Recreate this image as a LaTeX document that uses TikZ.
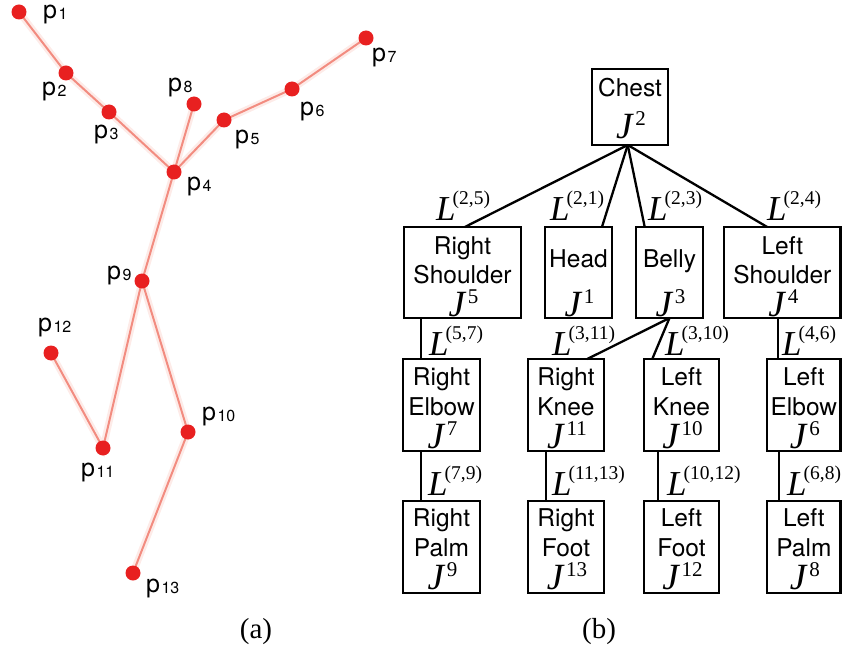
\documentclass[tikz,border=0pt]{standalone}
\usepackage{fontspec}
\setmainfont{Liberation Serif}
\newfontfamily\hv{TeX Gyre Heros}
\usetikzlibrary{calc}
\definecolor{bone}{RGB}{242,140,128}
\definecolor{halo}{RGB}{252,222,216}
\definecolor{joint}{RGB}{232,32,32}
\newcommand\Jl[1]{{\fontsize{37}{37}\selectfont\itshape J}\kern3pt\raisebox{13pt}{\fontsize{21}{21}\selectfont #1}}
\newcommand\Ll[1]{{\fontsize{35}{35}\selectfont\itshape L}\kern-3pt\raisebox{16pt}{\fontsize{19.5}{19.5}\selectfont (#1)}}
\newcommand\pl[1]{{\fontsize{25}{25}\selectfont p}\kern1.5pt\raisebox{-1pt}{\fontsize{16}{16}\selectfont #1}}
\newcommand\bx[5]{\node[box, minimum width={#4-#2}, minimum height={#5-#3}] (#1) at ({(#2+#4)/2},{(#3+#5)/2}) {};}
\newcommand\bt[4]{\node[sf, anchor=base] (#1#2) at ($(#1.north)+(0,#3)$) {#4};}
\newcommand\bj[3]{\node[anchor=base, inner sep=0pt] (#1j) at ($(#1.south)+(1,-#2)$) {\Jl{#3}};}
\newcommand\mkpt[4]{\coordinate (#1) at ($(#2.#3 west)!#4!(#2.#3 east)$);}
\tikzset{
  box/.style={draw, line width=2.6pt, inner sep=0pt, outer sep=0pt},
  sf/.style={inner sep=0pt, font=\hv\fontsize{24.5}{24.5}\selectfont},
  link/.style={line width=2.3pt},
  dot/.style={circle, fill=joint, minimum size=15pt, inner sep=0pt},
  bonehalo/.style={halo, line width=7pt, opacity=0.6},
  boneline/.style={bone, line width=2pt},
  plab/.style={anchor=base west, inner sep=0pt, font=\hv},
  llab/.style={anchor=base west, inner sep=0pt},
  captext/.style={inner sep=0pt, font=\fontsize{29}{29}\selectfont}
}
\begin{document}
\begin{tikzpicture}[x=1pt,y=-1pt]
\useasboundingbox (0,0) rectangle (842,652);
% ---------- panel (a)
\coordinate (c1) at (19,12);
\coordinate (c2) at (66,73);
\coordinate (c3) at (109,112);
\coordinate (c4) at (174,172);
\coordinate (c5) at (224,120);
\coordinate (c6) at (292,89);
\coordinate (c7) at (366,38);
\coordinate (c8) at (194,104);
\coordinate (c9) at (142,281);
\coordinate (c10) at (188,432);
\coordinate (c11) at (103,448);
\coordinate (c12) at (51,353);
\coordinate (c13) at (133,573);
\foreach \s in {bonehalo,boneline}{
  \draw[\s] (c1)--(c2)--(c3)--(c4)--(c5)--(c6)--(c7);
  \draw[\s] (c4)--(c8);
  \draw[\s] (c4)--(c9)--(c11)--(c12);
  \draw[\s] (c9)--(c10)--(c13);
}
\foreach \i in {1,...,13}{\node[dot] (p\i) at (c\i) {};}
\node[plab] (lp1) at (43,19) {\pl{1}};
\node[plab] (lp2) at (42,96) {\pl{2}};
\node[plab] (lp3) at (94,139) {\pl{3}};
\node[plab] (lp4) at (187,191) {\pl{4}};
\node[plab] (lp5) at (235,144) {\pl{5}};
\node[plab] (lp6) at (300,116) {\pl{6}};
\node[plab] (lp7) at (372,62) {\pl{7}};
\node[plab] (lp8) at (168,92) {\pl{8}};
\node[plab] (lp9) at (107,279) {\pl{9}};
\node[plab] (lp10) at (202,420) {\pl{10}};
\node[plab] (lp11) at (81,476) {\pl{11}};
\node[plab] (lp12) at (38,331) {\pl{12}};
\node[plab] (lp13) at (146,592) {\pl{13}};
\node[captext] (capa) at (256,632) {(a)};
% ---------- panel (b)
\bx{chest}{592}{69}{668}{145}
\bx{rs}{404}{227}{521}{318}
\bx{head}{545}{227}{612}{318}
\bx{belly}{636}{227}{703}{318}
\bx{ls}{724}{227}{840.7}{318}
\bx{re}{403}{359}{480}{451}
\bx{rk}{528}{359}{604}{451}
\bx{lk}{644}{359}{719}{451}
\bx{le}{767}{359}{840.7}{451}
\bx{rp}{403}{501}{480}{593}
\bx{rf}{528}{501}{604}{593}
\bx{lf}{644}{501}{719}{593}
\bx{lp}{767}{501}{840.7}{593}
% texts
\bt{chest}{a}{28}{Chest}\bj{chest}{6}{2}
\bt{rs}{a}{27}{Right}\bt{rs}{b}{56}{Shoulder}\bj{rs}{2}{5}
\bt{head}{a}{40}{Head}\bj{head}{2}{1}
\bt{belly}{a}{40}{Belly}\bj{belly}{2}{3}
\bt{ls}{a}{27}{Left}\bt{ls}{b}{56}{Shoulder}\bj{ls}{2}{4}
\bt{re}{a}{26}{Right}\bt{re}{b}{56}{Elbow}\bj{re}{3}{7}
\bt{rk}{a}{26}{Right}\bt{rk}{b}{56}{Knee}\bj{rk}{3}{11}
\bt{lk}{a}{26}{Left}\bt{lk}{b}{56}{Knee}\bj{lk}{3}{10}
\bt{le}{a}{26}{Left}\bt{le}{b}{56}{Elbow}\bj{le}{3}{6}
\bt{rp}{a}{25}{Right}\bt{rp}{b}{55}{Palm}\bj{rp}{4}{9}
\bt{rf}{a}{25}{Right}\bt{rf}{b}{55}{Foot}\bj{rf}{4}{13}
\bt{lf}{a}{25}{Left}\bt{lf}{b}{55}{Foot}\bj{lf}{4}{12}
\bt{lp}{a}{25}{Left}\bt{lp}{b}{55}{Palm}\bj{lp}{4}{8}
% connectors
\mkpt{c0}{chest}{south}{0.47}
\mkpt{t1}{rs}{north}{0.52}
\mkpt{t2}{head}{north}{0.85}
\mkpt{t3}{belly}{north}{0.13}
\mkpt{t4}{ls}{north}{0.37}
\mkpt{t5}{rk}{north}{0.78}
\mkpt{t6}{lk}{north}{0.11}
\draw[link] (c0) -- (t1);
\draw[link] (c0) -- (t2);
\draw[link] (c0) -- (t3);
\draw[link] (c0) -- (t4);
\draw[link] (belly.south) -- (t5);
\draw[link] (belly.south) -- (t6);
\mkpt{v1}{rs}{south}{0.145}
\draw[link] (v1) -- (v1 |- re.north);
\mkpt{v2}{ls}{south}{0.46}
\draw[link] (v2) -- (v2 |- le.north);
\mkpt{v3}{re}{south}{0.23}
\draw[link] (v3) -- (v3 |- rp.north);
\mkpt{v4}{rk}{south}{0.24}
\draw[link] (v4) -- (v4 |- rf.north);
\mkpt{v5}{lk}{south}{0.19}
\draw[link] (v5) -- (v5 |- lf.north);
\mkpt{v6}{le}{south}{0.16}
\draw[link] (v6) -- (v6 |- lp.north);
% link labels
\node[llab] (l25) at (436,221) {\Ll{2,5}};
\node[llab] (l21) at (550,221) {\Ll{2,1}};
\node[llab] (l23) at (648,221) {\Ll{2,3}};
\node[llab] (l24) at (767,221) {\Ll{2,4}};
\node[llab] (l57) at (429,355) {\Ll{5,7}};
\node[llab] (l311) at (552,355) {\Ll{3,11}};
\node[llab] (l310) at (665,355) {\Ll{3,10}};
\node[llab] (l46) at (782,355) {\Ll{4,6}};
\node[llab] (l79) at (428,495) {\Ll{7,9}};
\node[llab] (l1113) at (552,495) {\Ll{11,13}};
\node[llab] (l1012) at (667,495) {\Ll{10,12}};
\node[llab] (l68) at (787,495) {\Ll{6,8}};
\node[captext] (capb) at (599,632) {(b)};
\end{tikzpicture}
\end{document}
